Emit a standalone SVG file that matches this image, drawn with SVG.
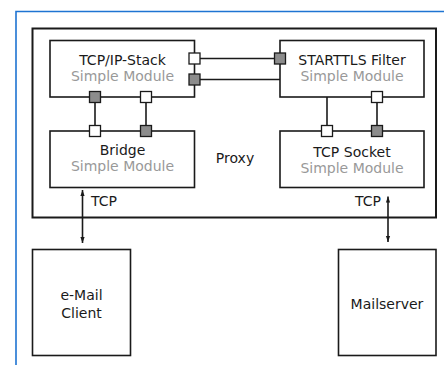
<svg xmlns="http://www.w3.org/2000/svg" width="444" height="365" viewBox="0 0 444 365">
<style>
.box{fill:#fff;stroke:#1a1a1a;stroke-width:1.6}
.port{stroke:#1a1a1a;stroke-width:1.3}
.pw{fill:#fff}
.pg{fill:#8c8c8c}
.ln{stroke:#1a1a1a;stroke-width:1.6;fill:none}
.t{font-family:"DejaVu Sans",sans-serif;font-size:14px;fill:#1a1a1a;text-anchor:middle}
.s{font-family:"DejaVu Sans",sans-serif;font-size:14px;fill:#999;text-anchor:middle}
</style>
<defs>
<marker id="ah" viewBox="0 0 10 10" refX="10" refY="5" markerWidth="6" markerHeight="6" orient="auto-start-reverse" markerUnits="userSpaceOnUse">
<path d="M0,1.5 L10,5 L0,8.5 Z" fill="#1a1a1a"/>
</marker>
</defs>
<rect width="444" height="365" fill="#fff"/>
<path d="M16,366 V11.5 H445" fill="none" stroke="#1e74d2" stroke-width="1.6"/>
<g id="proxy">
<rect x="32.5" y="28.5" width="403.5" height="189" fill="#fff" stroke="#1a1a1a" stroke-width="2"/>
<text class="t" x="235" y="163">Proxy</text>
</g>
<g id="connectors">
<line class="ln" x1="194.5" y1="58.5" x2="280" y2="58.5"/>
<line class="ln" x1="194.5" y1="79.5" x2="280" y2="79.5"/>
<line class="ln" x1="95" y1="97" x2="95" y2="131"/>
<line class="ln" x1="146" y1="97" x2="146" y2="131"/>
<line class="ln" x1="327" y1="97" x2="327" y2="131"/>
<line class="ln" x1="377" y1="97" x2="377" y2="131"/>
<line class="ln" x1="82.5" y1="190" x2="82.5" y2="243" marker-start="url(#ah)" marker-end="url(#ah)"/>
<line class="ln" x1="388" y1="196.5" x2="388" y2="242" marker-start="url(#ah)" marker-end="url(#ah)"/>
<text class="t" x="104" y="206">TCP</text>
<text class="t" x="368" y="206">TCP</text>
</g>
<g id="tcpip">
<rect class="box" x="50" y="40.5" width="144.5" height="56.5"/>
<text class="t" x="122.5" y="65">TCP/IP-Stack</text>
<text class="s" x="122.5" y="81">Simple Module</text>
<rect class="port pw" x="189" y="53" width="11" height="11"/>
<rect class="port pg" x="189" y="74" width="11" height="11"/>
<rect class="port pg" x="89.5" y="91.5" width="11" height="11"/>
<rect class="port pw" x="140.5" y="91.5" width="11" height="11"/>
</g>
<g id="bridge">
<rect class="box" x="50" y="131" width="144.5" height="56.5"/>
<text class="t" x="122.5" y="155">Bridge</text>
<text class="s" x="122.5" y="171">Simple Module</text>
<rect class="port pw" x="89.5" y="125.5" width="11" height="11"/>
<rect class="port pg" x="140.5" y="125.5" width="11" height="11"/>
</g>
<g id="starttls">
<rect class="box" x="280" y="40.5" width="144" height="56.5"/>
<text class="t" x="352" y="65">STARTTLS Filter</text>
<text class="s" x="352" y="81">Simple Module</text>
<rect class="port pg" x="274.5" y="53" width="11" height="11"/>
<rect class="port pw" x="371.5" y="91.5" width="11" height="11"/>
</g>
<g id="tcpsocket">
<rect class="box" x="280" y="131" width="144" height="56.5"/>
<text class="t" x="352" y="157">TCP Socket</text>
<text class="s" x="352" y="173">Simple Module</text>
<rect class="port pw" x="321.5" y="125.5" width="11" height="11"/>
<rect class="port pg" x="371.5" y="125.5" width="11" height="11"/>
</g>
<g id="client">
<rect class="box" x="32.5" y="249.5" width="98" height="106"/>
<text class="t" x="81.5" y="300">e-Mail</text>
<text class="t" x="81.5" y="317.5">Client</text>
</g>
<g id="mailserver">
<rect class="box" x="338.5" y="249.5" width="97.5" height="106"/>
<text class="t" x="387" y="309">Mailserver</text>
</g>
</svg>
